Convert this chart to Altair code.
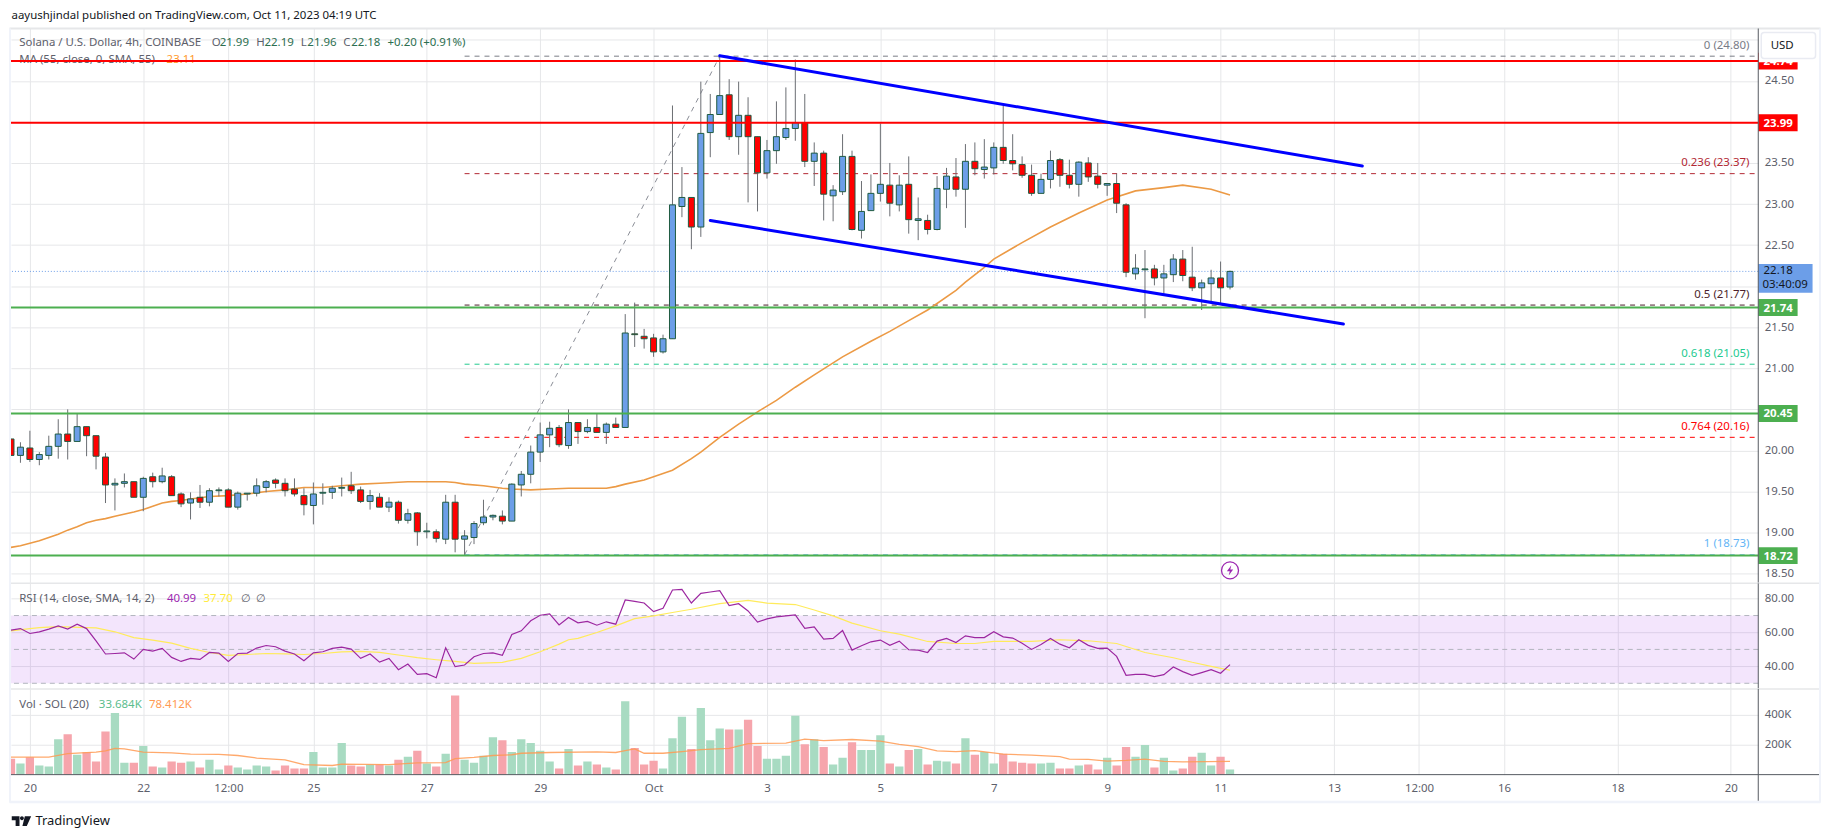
import altair as alt
import pandas as pd

FONT = "Noto Sans"
FS = 11.5

opens = [20.14,19.94,20.03,19.89,19.94,20.05,20.20,20.11,20.29,20.18,
 19.92,19.58,19.60,19.62,19.43,19.68,19.62,19.68,19.47,19.36,
 19.43,19.37,19.51,19.52,19.31,19.47,19.48,19.55,19.64,19.60,
 19.53,19.45,19.33,19.48,19.49,19.54,19.57,19.52,19.38,19.43,
 19.31,19.37,19.15,19.24,19.01,19.01,18.92,19.37,18.92,18.94,
 19.12,19.19,19.20,19.14,19.58,19.71,19.98,20.19,20.28,20.06,
 20.34,20.23,20.28,20.22,20.32,20.28,21.42,21.39,21.37,21.20,
 21.36,22.97,23.08,22.72,23.87,24.09,24.33,23.82,24.08,23.82,
 23.38,23.65,23.81,23.92,23.99,23.52,23.62,23.10,23.15,23.58,
 22.68,22.92,23.13,23.23,22.99,23.24,22.80,22.80,22.69,23.18,
 23.33,23.18,23.52,23.42,23.44,23.69,23.53,23.48,23.35,23.13,
 23.30,23.54,23.35,23.24,23.50,23.34,23.23,23.25,22.99,22.15,
 22.20,22.21,22.10,22.14,22.33,22.11,21.98,22.03,22.10,21.99]
highs = [20.14,20.10,20.24,19.98,20.18,20.38,20.50,20.45,20.29,20.18,
 19.97,19.66,19.72,19.62,19.68,19.73,19.79,19.70,19.49,19.49,
 19.58,19.54,19.55,19.54,19.50,19.48,19.66,19.64,19.66,19.66,
 19.66,19.54,19.61,19.60,19.57,19.67,19.74,19.56,19.52,19.48,
 19.43,19.39,19.29,19.25,19.12,19.04,19.46,19.46,19.03,19.14,
 19.40,19.22,19.27,19.60,19.75,20.06,20.34,20.35,20.31,20.50,
 20.34,20.38,20.45,20.34,20.40,21.66,21.80,21.48,21.42,21.41,
 24.20,23.45,23.08,24.49,24.34,24.82,24.52,24.49,24.30,23.82,
 23.78,24.25,24.42,24.76,24.34,23.75,23.65,23.23,23.85,23.65,
 23.28,23.36,23.98,23.50,23.35,23.58,23.08,22.87,23.34,23.44,
 23.56,23.73,23.75,23.79,23.75,24.20,23.85,23.58,23.48,23.37,
 23.65,23.56,23.54,23.52,23.57,23.50,23.25,23.37,23.01,22.39,
 22.44,22.26,22.26,22.39,22.44,22.48,22.08,22.20,22.30,22.19]
lows = [19.94,19.85,19.86,19.82,19.89,19.90,19.89,20.11,19.93,19.77,
 19.36,19.27,19.55,19.43,19.26,19.55,19.60,19.45,19.31,19.16,
 19.30,19.32,19.44,19.31,19.28,19.39,19.44,19.49,19.54,19.44,
 19.44,19.21,19.10,19.34,19.41,19.44,19.47,19.36,19.28,19.31,
 19.25,19.11,19.11,18.84,18.93,18.88,18.86,18.76,18.73,18.86,
 19.09,19.15,19.10,19.14,19.44,19.60,19.86,20.04,20.04,20.02,
 20.08,20.21,20.22,20.08,20.28,20.28,21.26,21.24,21.14,21.18,
 21.36,22.84,22.45,22.60,23.57,24.09,23.78,23.60,23.02,22.91,
 23.31,23.49,23.78,23.77,23.45,23.22,22.80,22.79,23.11,22.68,
 22.58,22.92,23.03,22.85,22.91,22.64,22.56,22.63,22.68,22.95,
 23.09,22.71,23.35,23.31,23.36,23.49,23.41,23.32,23.10,23.13,
 23.19,23.21,23.19,23.09,23.27,23.19,23.10,22.89,22.11,22.08,
 21.61,22.01,21.91,22.05,22.06,21.94,21.71,21.81,21.79,21.96]
closes = [19.94,20.04,19.89,19.95,20.05,20.20,20.11,20.29,20.18,19.93,
 19.58,19.60,19.62,19.43,19.66,19.62,19.69,19.45,19.35,19.41,
 19.37,19.51,19.52,19.31,19.48,19.48,19.57,19.62,19.60,19.51,
 19.47,19.34,19.47,19.49,19.54,19.55,19.51,19.38,19.45,19.31,
 19.37,19.15,19.23,19.01,19.02,18.93,19.37,18.92,18.96,19.11,
 19.19,19.21,19.14,19.59,19.71,19.98,20.19,20.27,20.07,20.34,
 20.23,20.28,20.22,20.32,20.28,21.43,21.41,21.36,21.20,21.36,
 22.99,23.08,22.72,23.86,24.09,24.32,23.82,24.08,23.82,23.38,
 23.65,23.82,23.92,23.99,23.52,23.62,23.12,23.17,23.58,22.69,
 22.91,23.13,23.24,23.01,23.23,22.81,22.82,22.69,23.19,23.34,
 23.18,23.52,23.43,23.45,23.69,23.53,23.49,23.35,23.13,23.30,
 23.53,23.35,23.24,23.51,23.33,23.24,23.25,23.01,22.17,22.22,
 22.21,22.10,22.15,22.33,22.13,21.98,22.04,22.10,21.98,22.18]
volumes = [107,74,117,61,54,237,270,133,150,87,289,413,80,80,191,54,48,87,80,87,
 48,100,35,61,48,35,61,54,28,61,41,41,152,48,48,211,61,54,67,67,
 61,100,120,159,74,54,139,530,100,80,126,250,230,152,237,211,159,87,41,172,
 61,87,67,48,35,491,178,67,93,41,243,387,172,446,230,309,302,302,367,191,
 107,107,126,393,204,237,185,67,113,217,165,165,263,74,54,165,172,67,93,87,
 74,243,133,152,74,139,87,80,74,74,80,41,41,61,67,35,113,61,185,120,
 198,48,113,28,41,120,146,61,120,34]
rsi = [61.4,62.3,59.4,60.4,62.0,63.9,62.0,64.9,62.3,55.1,47.3,47.6,48.0,44.3,50.0,49.0,50.6,45.3,42.9,44.7,
 44.1,48.2,47.8,42.9,47.6,47.8,50.8,52.3,51.6,49.0,47.3,43.3,48.0,48.6,50.6,51.4,50.2,44.7,47.3,42.5,
 44.7,38.0,41.4,35.3,35.7,33.3,51.0,39.8,40.8,45.7,47.6,48.0,46.5,58.8,61.0,66.9,70.2,71.0,64.5,68.8,
 65.7,66.5,64.3,66.3,64.9,79.2,78.4,77.4,72.3,74.3,85.1,85.5,77.4,83.1,83.9,84.7,75.9,77.0,72.7,66.1,
 68.0,69.2,69.8,70.4,62.5,63.3,56.1,56.5,61.2,49.6,52.2,54.5,55.5,52.4,54.9,49.8,49.6,48.2,54.9,56.5,
 54.1,58.0,57.0,57.0,60.4,57.4,56.7,53.7,50.0,52.9,56.5,53.1,51.0,55.7,52.4,50.6,50.8,45.9,34.7,35.3,
 35.3,33.9,35.1,39.6,36.9,34.7,36.3,38.0,35.9,40.99]
ma_i = [-2,-1,1,2,3,4,5,6,7,8,9,11,12,13,14,15,16,17,19,21,23,25,27,29,31,33,35,37,40,42,44,45,46,48,50,51,53,55,57,59,61,
 62,63,65,67,68,70,71,73,75,77,79,81,83,86,89,91,93,95,98,99,101,102,105,108,111,114,117,120,122,125,127]
ma_v = [18.82,18.84,18.90,18.94,18.98,19.03,19.07,19.12,19.15,19.17,19.20,19.25,19.28,19.32,19.36,19.38,19.39,19.41,19.44,19.45,
 19.47,19.50,19.52,19.55,19.55,19.57,19.59,19.60,19.62,19.62,19.62,19.61,19.59,19.57,19.54,19.53,19.52,19.53,19.54,19.54,19.54,
 19.56,19.59,19.64,19.72,19.76,19.90,19.98,20.16,20.32,20.47,20.61,20.77,20.92,21.14,21.33,21.45,21.58,21.71,21.95,22.05,22.23,22.33,
 22.53,22.72,22.89,23.05,23.16,23.20,23.23,23.18,23.11]
rsi_ma_i = [-2,0,1,3,6,7,9,11,13,15,17,19,21,23,25,27,29,31,33,35,37,39,41,43,45,47,50,52,54,56,57,58,60,62,64,66,68,70,73,76,78,81,83,85,87,90,92,95,98,100,102,106,109,112,115,118,121,123,125,127]
rsi_ma_v = [61.0,62.3,62.9,63.5,62.9,62.7,60.4,57.0,55.5,53.7,50.6,48.2,46.5,47.0,47.6,47.4,47.0,47.6,48.6,48.8,48.2,46.7,45.1,43.9,42.9,41.8,42.4,44.7,48.6,53.1,55.7,56.5,60.0,63.9,68.2,69.8,71.8,73.7,77.0,79.0,77.3,76.5,73.3,69.8,65.5,61.0,59.0,54.7,53.5,53.5,54.7,54.7,55.7,55.1,53.5,48.2,45.1,42.4,40.0,37.7]
vol_ma_i = [-2,2,4,7,8,9,10,12,15,17,20,22,24,27,29,32,33,38,41,44,45,47,49,51,52,55,60,62,63,64,65,67,69,71,74,76,80,82,84,87,90,92,94,96,98,100,103,106,109,110,112,114,116,118,120,122,127]
vol_ma_v = [117,117,141,150,159,176,172,150,146,137,135,128,111,98,67,61,70,67,78,80,107,115,128,133,143,148,152,148,161,172,143,143,154,167,176,207,211,237,228,235,224,202,187,159,154,161,137,130,120,104,102,91,96,104,89,85,89]

tick_i = [0,12,21,30,42,54,66,78,90,102,114,126,138,147,156,168,180]
tick_lab = ["20","22","12:00","25","27","29","Oct","3","5","7","9","11","13","12:00","16","18","20"]
price_ticks = [18.5,19,19.5,20,20.5,21,21.5,22,22.5,23,23.5,24,24.5,25]
unlabelled_ticks = [20.5,22,24,25]
fib_v = [24.80,23.37,21.77,21.05,20.16,18.73]
fib_t = ["0 (24.80)","0.236 (23.37)","0.5 (21.77)","0.618 (21.05)","0.764 (20.16)","1 (18.73)"]
fib_c = ["#787b86","#b22833","#4c1f2b","#22ca8f","#ff0000","#64b5f6"]
red_lv = [24.74,23.99]
green_lv = [21.74,20.45,18.72]

W, H1, H2, H3 = 1754, 557, 106, 86
XDOM = [-2, 182.9]
GRID = "#e6e7e9"
AX = "#555a60"
TXT = "#5d606b"

df = pd.DataFrame({"i": list(range(-2, 128)), "o": opens, "h": highs, "l": lows, "c": closes, "v": volumes, "r": rsi})
df["top"] = df[["o", "c"]].max(axis=1)
df["bot"] = df[["o", "c"]].min(axis=1)
df["fc"] = ["#6c9ee8" if c >= o else "#ff0000" for o, c in zip(df.o, df.c)]
df["vc"] = ["#a8dbc2" if c >= o else "#f6a5ac" for o, c in zip(df.o, df.c)]
one = pd.DataFrame({"a": [0]})

xs = alt.Scale(domain=XDOM, nice=False, zero=False, padding=0)
xlbl = "{" + ",".join(f"'{a}':'{b}'" for a, b in zip(tick_i, tick_lab)) + "}[datum.value]"

def label(x, y, s, color=TXT, size=FS, align="left", **kw):
    return alt.Chart(one).mark_text(text=s, align=align, baseline="middle", font=FONT, fontSize=size, color=color, **kw).encode(
        x=alt.value(x), y=alt.value(y))

def seg(x1, x2, y1, y2=None, color=GRID, width=2):
    e = dict(x=alt.value(x1), y=alt.value(y1))
    if x2 != x1:
        e["x2"] = alt.value(x2)
    if y2 is not None:
        e["y2"] = alt.value(y2)
    return alt.Chart(one).mark_rule(color=color, strokeWidth=width).encode(**e)

def xaxis(labels=False):
    if labels:
        return alt.Axis(values=tick_i, labelExpr=xlbl, grid=True, gridColor=GRID, ticks=False, domain=False, title=None,
                        labelFont=FONT, labelFontSize=FS, labelColor=TXT, labelPadding=8, labelFlush=False, labelOverlap=False)
    return alt.Axis(values=tick_i, labels=False, grid=True, gridColor=GRID, ticks=False, domain=False, title=None)

def yaxis(vals, expr=None):
    kw = dict(values=vals, orient="right", grid=True, gridColor=GRID, ticks=False, domain=False, title=None,
              labelFont=FONT, labelFontSize=FS, labelColor=TXT, labelPadding=6, labelOverlap=False)
    kw["labelExpr"] = expr if expr else "format(datum.value,'.2f')"
    return alt.Axis(**kw)

AX_X0, AX_X1 = xaxis(), xaxis(True)
Xp = lambda f: alt.X(f, scale=xs, axis=AX_X0)
Xv = lambda f: alt.X(f, scale=xs, axis=AX_X1)

# ---------- price pane ----------
ys = alt.Scale(domain=[18.382, 25.137], nice=False, zero=False)
hidden = "||".join(f"datum.value=={v}" for v in unlabelled_ticks)
AX_P = yaxis(price_ticks, f"({hidden})?'':format(datum.value,'.2f')")
Yp = lambda f: alt.Y(f, scale=ys, axis=AX_P)

bg = alt.Chart(one).mark_rect(fill="white").encode(x=alt.value(-1.5), x2=alt.value(1816.5), y=alt.value(-19), y2=alt.value(0))

fib_df = pd.DataFrame({"y": fib_v, "t": fib_t, "col": fib_c, "x0": [46] * 6, "x1": [XDOM[1]] * 6})
fib_rules = alt.Chart(fib_df).mark_rule(strokeWidth=1, strokeDash=[5, 5]).encode(
    x=Xp("x0:Q"), x2="x1:Q", y=Yp("y:Q"), color=alt.Color("col:N", scale=None))
fib_text = alt.Chart(fib_df).mark_text(align="right", baseline="middle", dy=-10.5, font=FONT, fontSize=FS).encode(
    x=alt.value(1745.2), y=Yp("y:Q"), text="t:N", color=alt.Color("col:N", scale=None))

diag = alt.Chart(pd.DataFrame({"i": [46, 73], "p": [18.73, 24.80]})).mark_line(color="#8a8d96", strokeWidth=1, strokeDash=[5, 5]).encode(
    x=Xp("i:Q"), y=Yp("p:Q"))
last_line = alt.Chart(pd.DataFrame({"y": [22.18]})).mark_rule(color="#6c9ee8", strokeWidth=1, strokeDash=[1, 2]).encode(y=Yp("y:Q"))

ma_line = alt.Chart(pd.DataFrame({"i": ma_i, "p": ma_v})).mark_line(color="#ec9a45", strokeWidth=1.6, clip=True).encode(
    x=Xp("i:Q"), y=Yp("p:Q"))

wicks = alt.Chart(df).mark_rule(color="#6a6d72", strokeWidth=1, clip=True).encode(x=Xp("i:Q"), y=Yp("l:Q"), y2="h:Q")
bodies = alt.Chart(df).mark_bar(size=6, stroke="#1f5a40", strokeWidth=1, clip=True).encode(
    x=Xp("i:Q"), y=Yp("bot:Q"), y2="top:Q", fill=alt.Fill("fc:N", scale=None))

reds = alt.Chart(pd.DataFrame({"y": red_lv})).mark_rule(color="#ff0000", strokeWidth=2).encode(y=Yp("y:Q"))
greens = alt.Chart(pd.DataFrame({"y": green_lv})).mark_rule(color="#4caf50", strokeWidth=2).encode(y=Yp("y:Q"))

up_tr = alt.Chart(pd.DataFrame({"i": [73, 141], "p": [24.805, 23.463]})).mark_line(color="#0000ff", strokeWidth=3, strokeCap="round").encode(
    x=Xp("i:Q"), y=Yp("p:Q"))
lo_tr = alt.Chart(pd.DataFrame({"i": [72, 139], "p": [22.80, 21.539]})).mark_line(color="#0000ff", strokeWidth=3, strokeCap="round").encode(
    x=Xp("i:Q"), y=Yp("p:Q"))

zap_df = pd.DataFrame({"i": [127], "p": [18.54]})
zap_c = alt.Chart(zap_df).mark_point(size=290, filled=False, color="#9c27b0", strokeWidth=1.3, opacity=1).encode(x=Xp("i:Q"), y=Yp("p:Q"))
zap_b = alt.Chart(zap_df).mark_point(shape="M0.25,-1 L-0.6,0.15 L-0.05,0.15 L-0.25,1 L0.6,-0.15 L0.05,-0.15 Z", size=110, filled=True, color="#9c27b0", opacity=1).encode(
    x=Xp("i:Q"), y=Yp("p:Q"))

box_vals = [24.74, 23.99, 21.74, 20.45, 18.72]
box_cols = ["#ff0000", "#ff0000", "#4caf50", "#4caf50", "#4caf50"]
box_df = pd.DataFrame({"y": box_vals, "col": box_cols, "t": [f"{v:.2f}" for v in box_vals]})
boxes = alt.Chart(box_df).mark_rule(strokeWidth=17).encode(
    x=alt.value(W), x2=alt.value(W + 39.5), y=Yp("y:Q"), color=alt.Color("col:N", scale=None))
box_txt = alt.Chart(box_df).mark_text(color="white", font=FONT, fontSize=FS, fontWeight="bold", align="center", baseline="middle", dy=1).encode(
    x=alt.value(W + 20), y=Yp("y:Q"), text="t:N")
hide = seg(W + 0.5, W + 42, 26.5, color="white", width=15)
cur_df = pd.DataFrame({"y": [22.18]})
cur_box = alt.Chart(cur_df).mark_rule(strokeWidth=29, color="#6c9ee8", yOffset=7).encode(
    x=alt.value(W), x2=alt.value(W + 54.5), y=Yp("y:Q"))
cur1 = alt.Chart(cur_df).mark_text(text="22.18", color="#131722", font=FONT, fontSize=FS, align="center", baseline="middle", dy=0).encode(
    x=alt.value(W + 20), y=Yp("y:Q"))
cur2 = alt.Chart(cur_df).mark_text(text="03:40:09", color="#131722", font=FONT, fontSize=FS, align="center", baseline="middle", dy=14).encode(
    x=alt.value(W + 27), y=Yp("y:Q"))
usd_bg = alt.Chart(one).mark_rect(fill="white", stroke="#e9ebf2", strokeWidth=1.5, cornerRadius=3).encode(
    x=alt.value(W + 3), x2=alt.value(W + 57.5), y=alt.value(4), y2=alt.value(30))
usd = label(W + 12.5, 17.3, "USD", color="#131722")

price = alt.layer(
    bg, fib_rules, fib_text, diag, last_line, ma_line, wicks, bodies,
    label(0.5, -12.3, "aayushjindal published on TradingView.com, Oct 11, 2023 04:19 UTC", color="#131722"),
    label(8.3, 14.7, "Solana / U.S. Dollar, 4h, COINBASE"),
    label(201.5, 14.7, "O", color=TXT), label(209.5, 14.7, "21.99", color="#2b6e4f"),
    label(246.3, 14.7, "H", color=TXT), label(254.5, 14.7, "22.19", color="#2b6e4f"),
    label(291, 14.7, "L", color=TXT), label(297.5, 14.7, "21.96", color="#2b6e4f"),
    label(333.5, 14.7, "C", color=TXT), label(341.5, 14.7, "22.18", color="#2b6e4f"),
    label(378, 14.7, "+0.20 (+0.91%)", color="#2b6e4f"),
    label(8.3, 32, "MA (55, close, 0, SMA, 55)"),
    label(156.2, 32, "23.11", color="#ff9a2e"),
    reds, greens, up_tr, lo_tr, zap_c, zap_b,
    boxes, box_txt, hide, cur_box, cur1, cur2, usd_bg, usd,
    seg(-1.5, 1816.5, 0, width=2),
    seg(W, W, 0, H1, color=AX, width=1),
).properties(width=W, height=H1)

# ---------- RSI pane ----------
yr = alt.Scale(domain=[26.65, 89.0], nice=False, zero=False)
AX_R = yaxis([40, 60, 80])
Yr = lambda f: alt.Y(f, scale=yr, axis=AX_R)
band = alt.Chart(pd.DataFrame({"a": [30], "b": [70]})).mark_rect(fill="#9213e4", opacity=0.11).encode(y=Yr("a:Q"), y2="b:Q")
rlev = alt.Chart(pd.DataFrame({"y": [30, 50, 70]})).mark_rule(color="#b2b5be", strokeWidth=1, strokeDash=[5, 4]).encode(y=Yr("y:Q"))
rsi_ln = alt.Chart(df).mark_line(color="#9c27a0", strokeWidth=1.2, clip=True).encode(x=Xp("i:Q"), y=Yr("r:Q"))
rsi_ma = alt.Chart(pd.DataFrame({"i": rsi_ma_i, "p": rsi_ma_v})).mark_line(color="#ffeb5b", strokeWidth=1.2, clip=True).encode(
    x=Xp("i:Q"), y=Yr("p:Q"))
rsi_p = alt.layer(
    band, rlev, rsi_ma, rsi_ln,
    label(8.3, 16, "RSI (14, close, SMA, 14, 2)"),
    label(156.5, 16, "40.99", color="#9c27b0"),
    label(193.3, 16, "37.70", color="#ffeb3b"),
    label(231, 16, "∅", color=TXT), label(246, 16, "∅", color=TXT),
    seg(-1.5, 1816.5, 0, width=1.5),
    seg(W, W, 0, H2, color=AX, width=1),
).properties(width=W, height=H2)

# ---------- volume pane ----------
yv = alt.Scale(domain=[0, 573], nice=False, zero=True)
AX_V = yaxis([200, 400], "datum.value+'K'")
Yv = lambda f: alt.Y(f, scale=yv, axis=AX_V)
vbars = alt.Chart(df).mark_bar(size=8.3, clip=True).encode(
    x=Xv("i:Q"), y=Yv("v:Q"), fill=alt.Fill("vc:N", scale=None))
vma = alt.Chart(pd.DataFrame({"i": vol_ma_i, "p": vol_ma_v})).mark_line(color="#ff9a52", strokeWidth=1.3, opacity=0.85, clip=True).encode(
    x=Xv("i:Q"), y=Yv("p:Q"))
logo = alt.Chart(one).mark_point(
    shape="M-1,-0.5 H-0.2 V0.5 H-0.6 V-0.1 H-1 Z M-0.15,-0.3 A0.2,0.2 0 1 1 0.25,-0.3 A0.2,0.2 0 1 1 -0.15,-0.3 Z M0.35,-0.5 H1 L0.55,0.5 H0.1 Z",
    size=380, filled=True, color="#131722", opacity=1).encode(x=alt.value(10.5), y=alt.value(132.7))
vol_p = alt.layer(
    vbars, vma,
    label(8.3, 15.7, "Vol · SOL (20)"),
    label(88.2, 15.7, "33.684K", color="#5bbd8e"),
    label(138.5, 15.7, "78.412K", color="#ff9a52"),
    seg(-1.5, 1816.5, 0, width=1.5),
    seg(0, 1816, H3, color=AX, width=1),
    seg(W, W, 0, H3 + 27, color=AX, width=1),
    seg(-1.5, 1816.5, H3 + 27.5, color="#f0f3fa", width=2.5),
    seg(-1, -1, -663, H3 + 28, color="#f0f3fa", width=2),
    seg(1816, 1816, -663, H3 + 28, color="#f0f3fa", width=2),
    logo,
    label(24.5, 132.7, "TradingView", color="#131722", size=13),
).properties(width=W, height=H3)

chart = alt.vconcat(price, rsi_p, vol_p, spacing=0, bounds="flush").properties(
    padding=0
).configure_view(stroke=None).configure_axis(labelFont=FONT)

chart.save("out.html", embed_options={"renderer": "svg", "actions": False})
